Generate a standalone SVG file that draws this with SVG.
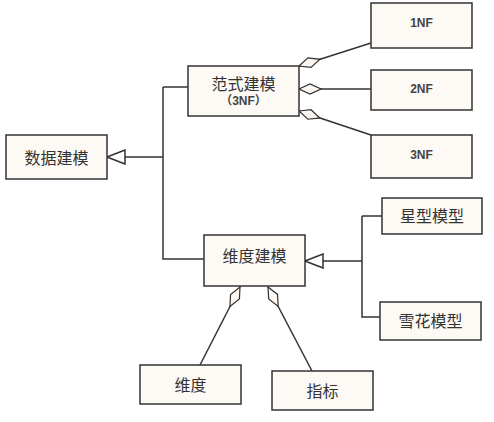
<svg xmlns="http://www.w3.org/2000/svg" width="494" height="422" viewBox="0 0 494 422">
<style>
.box{fill:#fdf9f5;stroke:#333;stroke-width:1.5}
.zh{font-family:"Noto Sans CJK SC","Liberation Serif",serif;font-size:16px;fill:#333;text-anchor:middle;dominant-baseline:central}
.en{font-family:"Liberation Sans","Noto Sans CJK SC",sans-serif;font-size:12px;font-weight:bold;fill:#444;text-anchor:middle;dominant-baseline:central}
.ln{fill:none;stroke:#333;stroke-width:1.5}
</style>
<defs>
<marker id="tri" markerUnits="userSpaceOnUse" viewBox="-1 -1 20 16" markerWidth="20" markerHeight="16" refX="18" refY="7" orient="auto">
<path d="M0,0 L18,7 L0,14 Z" fill="#fff" stroke="#333" stroke-width="1.5"/>
</marker>
<marker id="dia" markerUnits="userSpaceOnUse" viewBox="-1 -1 24 12" markerWidth="24" markerHeight="12" refX="0" refY="5" orient="auto">
<path d="M0,5 L11,0 L22,5 L11,10 Z" fill="#fdf6f0" stroke="#333" stroke-width="1.2"/>
</marker>
</defs>
<g id="connectors">
<path class="ln" d="M163,87 H188 M163,87 V259 H204"/>
<path class="ln" d="M163,157 H107" marker-end="url(#tri)"/>
<path class="ln" d="M362,216 H382 M362,216 V317 H380"/>
<path class="ln" d="M362,261 H305" marker-end="url(#tri)"/>
<path class="ln" d="M299,66 L371,43" marker-start="url(#dia)"/>
<path class="ln" d="M299,89 L371,89" marker-start="url(#dia)"/>
<path class="ln" d="M299,111 L371,135" marker-start="url(#dia)"/>
<path class="ln" d="M240,287 L200,365" marker-start="url(#dia)"/>
<path class="ln" d="M268,287 L312,371" marker-start="url(#dia)"/>
</g>
<g id="n-data"><rect class="box" x="6" y="135" width="101" height="44"/><text class="zh" x="56.5" y="157">数据建模</text></g>
<g id="n-fanshi"><rect class="box" x="188" y="66" width="111" height="50"/><text class="zh" x="243.5" y="83">范式建模</text><text class="en" x="243.5" y="101">（3NF）</text></g>
<g id="n-1nf"><rect class="box" x="371" y="3" width="101" height="45"/><text class="en" x="421.5" y="23">1NF</text></g>
<g id="n-2nf"><rect class="box" x="371" y="70" width="101" height="40"/><text class="en" x="421.5" y="89">2NF</text></g>
<g id="n-3nf"><rect class="box" x="371" y="135" width="101" height="43"/><text class="en" x="421.5" y="155">3NF</text></g>
<g id="n-weidujianmo"><rect class="box" x="204" y="235" width="101" height="51"/><text class="zh" x="254.5" y="255">维度建模</text></g>
<g id="n-star"><rect class="box" x="382" y="198" width="100" height="36"/><text class="zh" x="432" y="215">星型模型</text></g>
<g id="n-snow"><rect class="box" x="380" y="302" width="101" height="38"/><text class="zh" x="430.5" y="320">雪花模型</text></g>
<g id="n-weidu"><rect class="box" x="140" y="365" width="101" height="39"/><text class="zh" x="190.5" y="384">维度</text></g>
<g id="n-zhibiao"><rect class="box" x="272" y="371" width="101" height="39"/><text class="zh" x="322.5" y="390">指标</text></g>
</svg>
